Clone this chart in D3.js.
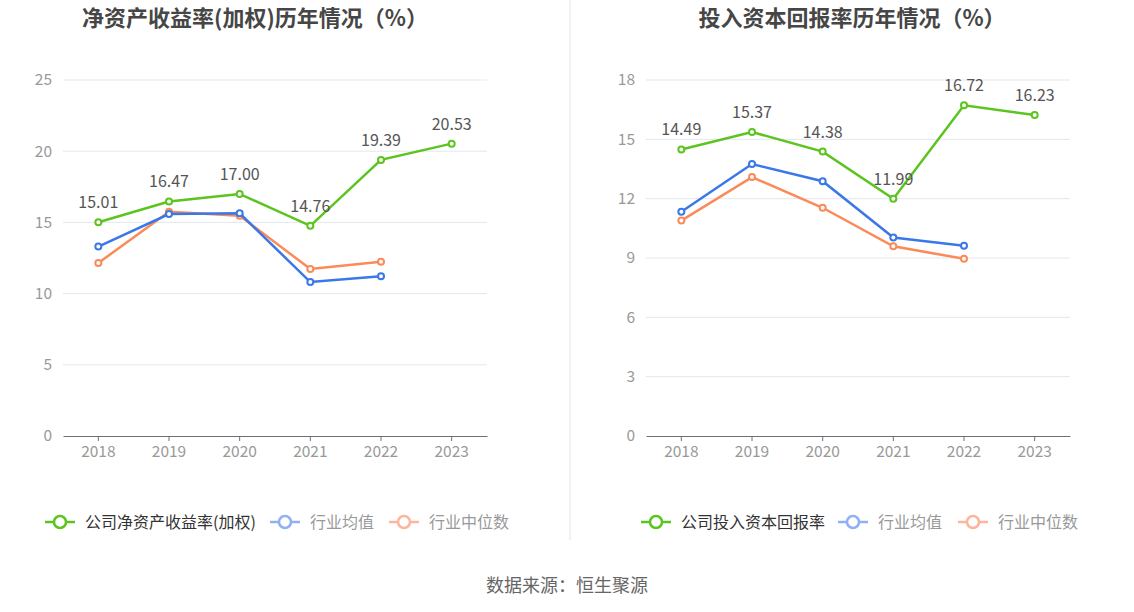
<!DOCTYPE html>
<html><head><meta charset="utf-8">
<script src="https://cdn.jsdelivr.net/npm/d3@7"></script>
<style>body{margin:0;background:#fff;font-family:"Noto Sans CJK SC","Noto Sans",sans-serif;}</style>
</head><body><svg id="c" width="1134" height="612"></svg>
<script>
const years = ["2018","2019","2020","2021","2022","2023"];
const roeCompany = [15.01,16.47,17.00,14.76,19.39,20.53];
const roeAvg = [13.3,15.59,15.64,10.81,11.21];
const roeMedian = [12.15,15.75,15.47,11.73,12.24];
const roicCompany = [14.49,15.37,14.38,11.99,16.72,16.23];
const roicAvg = [11.34,13.75,12.88,10.04,9.62];
const roicMedian = [10.89,13.09,11.54,9.59,8.96];
const roeTicks = [0,5,10,15,20,25];
const roicTicks = [0,3,6,9,12,15,18];
const titles = ["净资产收益率(加权)历年情况（%）","投入资本回报率历年情况（%）"];
const legendNames = [["公司净资产收益率(加权)","行业均值","行业中位数"],["公司投入资本回报率","行业均值","行业中位数"]];

const colors = ["#5bc41f","#3a77e8","#fb8a58"];
const legendColors = ["#5bc41f","#8fb0f5","#fdb59b"];
const svg = d3.select("#c");
const font = '"Noto Sans CJK SC","Noto Sans",sans-serif';

function drawChart(cfg){
  const g = svg.append("g");
  const x = d3.scaleBand().domain(years).range([cfg.x0, cfg.x1]);
  const y = d3.scaleLinear().domain([0, cfg.max]).range([436, 80]);
  g.append("text").attr("x", cfg.tx).attr("y", 26).attr("text-anchor","middle")
    .attr("font-size",22).attr("font-weight","bold").attr("fill","#464646").attr("font-family",font).text(cfg.title);
  g.selectAll(".grid").data(cfg.ticks.filter(t=>t>0)).enter().append("line")
    .attr("x1",cfg.x0).attr("x2",cfg.x1).attr("y1",d=>y(d)).attr("y2",d=>y(d))
    .attr("stroke","#e3e7ef").attr("stroke-width",1);
  const ya = g.append("g").attr("transform",`translate(${cfg.x0},0)`)
    .call(d3.axisLeft(y).tickValues(cfg.ticks).tickSize(0).tickPadding(11));
  ya.select(".domain").remove();
  ya.selectAll("text").attr("font-size",15.5).attr("fill","#999").attr("font-family",font);
  const xa = g.append("g").attr("transform","translate(0,436)")
    .call(d3.axisBottom(x).tickSize(5).tickSizeOuter(0).tickPadding(5));
  xa.select(".domain").attr("stroke","#6e7079");
  xa.selectAll(".tick line").attr("stroke","#6e7079");
  xa.selectAll("text").attr("font-size",15.5).attr("fill","#999").attr("font-family",font);
  const cx = d => x(d) + x.bandwidth()/2;
  const series = [cfg.company, cfg.avg, cfg.median];
  [2,1,0].forEach(i=>{
    const data = series[i].map((v,k)=>({yr:years[k], v}));
    const line = d3.line().x(d=>cx(d.yr)).y(d=>y(d.v));
    g.append("path").datum(data).attr("d",line).attr("fill","none")
      .attr("stroke",colors[i]).attr("stroke-width",2.5);
    g.selectAll(null).data(data).enter().append("circle")
      .attr("cx",d=>cx(d.yr)).attr("cy",d=>y(d.v)).attr("r",3)
      .attr("fill","#fff").attr("stroke",colors[i]).attr("stroke-width",2);
  });
  g.selectAll(null).data(cfg.company.map((v,k)=>({yr:years[k],v}))).enter().append("text")
    .attr("x",d=>cx(d.yr)).attr("y",d=>y(d.v)-14).attr("text-anchor","middle")
    .attr("font-size",16).attr("fill","#555").attr("font-family",font).text(d=>d.v.toFixed(2));
  cfg.legend.forEach((lx,i)=>{
    const lg = g.append("g").attr("transform",`translate(${lx},522)`);
    lg.append("line").attr("x1",0).attr("x2",30).attr("y1",0).attr("y2",0).attr("stroke",legendColors[i]).attr("stroke-width",2.5);
    lg.append("circle").attr("cx",15).attr("cy",0).attr("r",6).attr("fill","#fff").attr("stroke",legendColors[i]).attr("stroke-width",2.5);
    lg.append("text").attr("x",40).attr("y",5.5).attr("font-size",16).attr("font-family",font)
      .attr("fill", i===0 ? "#333" : "#999").text(cfg.names[i]);
  });
}
drawChart({x0:63,x1:487,max:25,ticks:roeTicks,title:titles[0],tx:255,company:roeCompany,avg:roeAvg,median:roeMedian,legend:[45,270,389],names:legendNames[0]});
drawChart({x0:646,x1:1070,max:18,ticks:roicTicks,title:titles[1],tx:852,company:roicCompany,avg:roicAvg,median:roicMedian,legend:[641,838,958],names:legendNames[1]});
svg.append("line").attr("x1",570).attr("x2",570).attr("y1",0).attr("y2",540).attr("stroke","#eeeeee").attr("stroke-width",1.5);
svg.append("text").attr("x",567).attr("y",592).attr("text-anchor","middle").attr("font-size",18).attr("fill","#666").attr("font-family",font).text("数据来源：恒生聚源");
</script></body></html>
